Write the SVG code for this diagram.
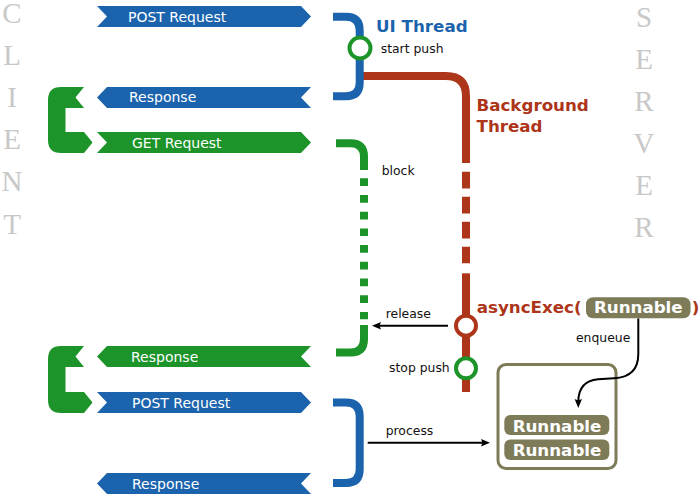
<svg xmlns="http://www.w3.org/2000/svg" width="700" height="494" viewBox="0 0 700 494">
<defs>
<style>
.side{font-family:"Liberation Serif",serif;font-size:29px;fill:#c8c8c8;text-anchor:middle}
.bt{font-family:"DejaVu Sans",sans-serif;font-size:14px;fill:#fff}
.sm{font-family:"DejaVu Sans",sans-serif;font-size:12.4px;fill:#111}
.bold{font-family:"DejaVu Sans",sans-serif;font-size:16.7px;font-weight:bold}
.blue{fill:#1c63ad}
.green{fill:#1c9429}
.red{fill:#ad3519}
.olive{fill:#7e7b58}
.wb{fill:#fff;text-anchor:middle}
.sb{fill:none;stroke:#1c63ad;stroke-width:8}
.sg{fill:none;stroke:#1c9429;stroke-width:8}
.sr{fill:none;stroke:#ad3519;stroke-width:8}
.ring{fill:#fff;stroke-width:4}
.conn{fill:none;stroke:#000;stroke-width:2}
</style>
<marker id="ah" markerUnits="userSpaceOnUse" markerWidth="12" markerHeight="10" refX="3" refY="4" orient="auto">
<path d="M0,0.3 L9,4 L0,7.7 L1.5,4 Z" fill="#000"/>
</marker>
</defs>

<g id="client-label">
<text class="side" x="12" y="23">C</text>
<text class="side" x="12" y="65">L</text>
<text class="side" x="12" y="107">I</text>
<text class="side" x="12" y="149.2">E</text>
<text class="side" x="12" y="191.4">N</text>
<text class="side" x="12" y="233.6">T</text>
</g>
<g id="server-label">
<text class="side" x="644" y="27">S</text>
<text class="side" x="644" y="69">E</text>
<text class="side" x="644" y="111">R</text>
<text class="side" x="644" y="153">V</text>
<text class="side" x="644" y="195">E</text>
<text class="side" x="644" y="237">R</text>
</g>

<g id="post-request-1">
<path class="blue" d="M97,6 H301 L311,16.5 L301,27 H97 L107,16.5 Z"/>
<text class="bt" x="128" y="21.5">POST Request</text>
</g>
<g id="response-1">
<path class="blue" d="M97,97.5 L107,87 H311 L301,97.5 L311,108 H107 Z"/>
<text class="bt" x="129" y="102">Response</text>
</g>
<g id="get-request">
<path class="green" d="M97,132 H301 L311,142.5 L301,153 H97 L107,142.5 Z"/>
<text class="bt" x="132" y="147.5">GET Request</text>
</g>
<g id="client-loop-1">
<path class="green" d="M84,87 H61 Q48,87 48,100 V140 Q48,153 61,153 H84 L92.5,142.5 L84,132 H65.5 V108 H84 L75.5,97.5 Z"/>
</g>
<g id="response-2">
<path class="green" d="M97,356.5 L107,346 H311 L301,356.5 L311,367 H107 Z"/>
<text class="bt" x="131" y="362">Response</text>
</g>
<g id="post-request-2">
<path class="blue" d="M97,392 H301 L311,402.5 L301,413 H97 L107,402.5 Z"/>
<text class="bt" x="132" y="407.5">POST Request</text>
</g>
<g id="client-loop-2">
<path class="green" d="M84,346 H61 Q48,346 48,359 V400 Q48,413 61,413 H84 L92.5,402.5 L84,392 H65.5 V367 H84 L75.5,356.5 Z"/>
</g>
<g id="response-3">
<path class="blue" d="M97,483.5 L107,473 H311 L301,483.5 L311,494 H107 Z"/>
<text class="bt" x="132" y="488.5">Response</text>
</g>

<g id="background-thread">
<path class="sr" d="M363,76 H446 Q466,76 466,96 V163"/>
<path class="sr" d="M466,171.7 V263.3" stroke-dasharray="16.7 8.3"/>
<path class="sr" d="M466,273.3 V392"/>
<text class="bold red" x="476.5" y="110.5">Background</text>
<text class="bold red" x="476.5" y="131.5">Thread</text>
</g>
<g id="ui-thread-1">
<path class="sb" d="M333,16.7 H346 Q359.7,16.7 359.7,30.4 V82.5 Q359.7,96.2 346,96.2 H333"/>
<text class="bold blue" x="376" y="31.7">UI Thread</text>
</g>
<g id="block">
<path class="sg" d="M336,143.3 H350.5 Q364,143.3 364,156.8 V170"/>
<path class="sg" d="M364,178.3 V319.3" stroke-dasharray="7.7 9"/>
<path class="sg" d="M364,325 V339 Q364,352.5 350.5,352.5 H336"/>
<text class="sm" x="381.7" y="175">block</text>
</g>
<g id="ui-thread-2">
<path class="sb" d="M333,402.5 H346 Q359.7,402.5 359.7,416.2 V469.3 Q359.7,483 346,483 H333"/>
</g>
<g id="start-push">
<circle class="ring" cx="360" cy="48" r="10.5" stroke="#1c9429"/>
<text class="sm" x="380.7" y="53">start push</text>
</g>
<g id="async-exec">
<circle class="ring" cx="466" cy="325.7" r="10" stroke="#ad3519"/>
<text class="bold red" x="476.7" y="313.3">asyncExec(</text>
<rect class="olive" x="586" y="297.3" width="104.5" height="21" rx="7"/>
<text class="bold wb" x="638.3" y="313.3">Runnable</text>
<text class="bold red" x="691.8" y="313.3">)</text>
</g>
<g id="stop-push">
<circle class="ring" cx="466" cy="368.3" r="10" stroke="#1c9429"/>
<text class="sm" x="389" y="372">stop push</text>
</g>
<g id="queue">
<rect x="498" y="364.5" width="118" height="104" rx="8" fill="#fff" stroke="#7e7b58" stroke-width="3"/>
<rect class="olive" x="504.3" y="415" width="105" height="20" rx="6"/>
<text class="bold wb" x="557" y="431.7">Runnable</text>
<rect class="olive" x="504.3" y="439.5" width="105" height="20.5" rx="6"/>
<text class="bold wb" x="557" y="455.9">Runnable</text>
</g>

<g id="connectors">
<path class="conn" d="M448,325.7 H378" marker-end="url(#ah)"/>
<text class="sm" x="385.7" y="318">release</text>
<path class="conn" d="M367.7,442.7 H484" marker-end="url(#ah)"/>
<text class="sm" x="385.7" y="435">process</text>
<path class="conn" d="M638.3,318.5 V354 Q638.3,377 614,378.3 L598,379.3 Q578.3,381 578.3,402" marker-end="url(#ah)"/>
<text class="sm" x="576" y="342.3">enqueue</text>
</g>
</svg>
